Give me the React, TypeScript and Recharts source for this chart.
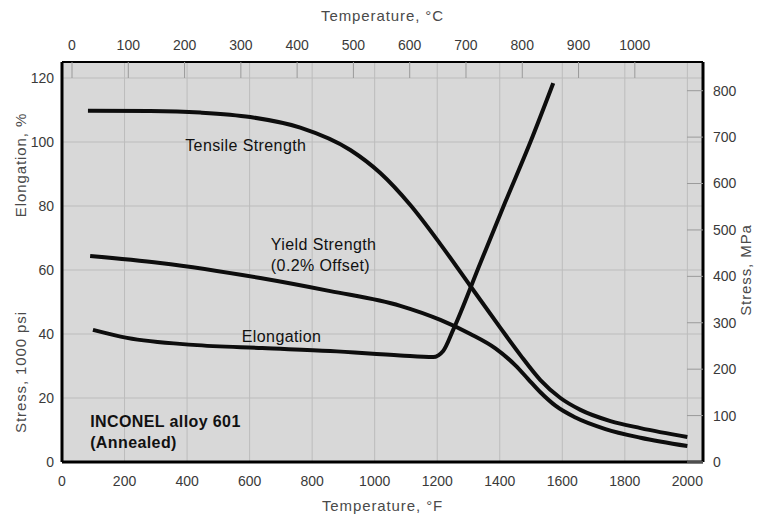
import { LineChart, Line, XAxis, YAxis, CartesianGrid, ReferenceDot } from "recharts";

const FONT = '"Liberation Sans", Arial, Helvetica, sans-serif';

// Temperature in °F; strengths in 1000 psi, elongation in %
const tensileTemps = [83, 282, 442, 602, 762, 922, 1018, 1114, 1210, 1306, 1402, 1466, 1530, 1594, 1658, 1754, 1850, 2000];
const tensileKsi = [109.8, 109.7, 109.2, 107.8, 104.5, 97.5, 90.3, 80.3, 68.1, 55, 41.9, 33.4, 25.6, 20, 16.3, 12.8, 10.6, 7.8];

const yieldTemps = [90, 314, 634, 858, 1082, 1210, 1306, 1386, 1450, 1490, 1530, 1578, 1642, 1738, 1850, 2000];
const yieldKsi = [64.4, 62.2, 57.5, 53.4, 48.8, 44.4, 40, 35.5, 30.2, 26, 21.8, 17.6, 13.9, 10.3, 7.6, 5];

const elongTemps = [99, 208, 419, 640, 858, 1082, 1187, 1219, 1251, 1338, 1418, 1498, 1571];
const elongPct = [41.3, 38.8, 36.6, 35.6, 34.7, 33.3, 32.8, 34.7, 41.3, 62.2, 81.3, 100, 118.4];

const fTicks = [0, 200, 400, 600, 800, 1000, 1200, 1400, 1600, 1800, 2000];
const cTicks = [0, 100, 200, 300, 400, 500, 600, 700, 800, 900, 1000];
const ksiTicks = [0, 20, 40, 60, 80, 100, 120];
const mpaTicks = [0, 100, 200, 300, 400, 500, 600, 700, 800];

const F_MAX = 2050;
const KSI_MAX = 125;
const KSI_TO_MPA = 6.89476;
const toC = (f: number) => (f - 32) / 1.8;

const toPoints = (temps: number[], vals: number[]) => temps.map((f, i) => ({ f, v: vals[i] }));

const tensile = toPoints(tensileTemps, tensileKsi);
const yieldPts = toPoints(yieldTemps, yieldKsi);
const elong = toPoints(elongTemps, elongPct);
// same tensile curve expressed in °C / MPa, keeps the secondary axes bound
const metric = tensile.map((p) => ({ c: toC(p.f), mpa: p.v * KSI_TO_MPA }));

// in-plot captions, anchored at (°F, ksi)
const notes = [
  { f: 394, v: 99, lines: ["Tensile Strength"], bold: false },
  { f: 668, v: 68.1, lines: ["Yield Strength", "(0.2% Offset)"], bold: false },
  { f: 575, v: 39.4, lines: ["Elongation"], bold: false },
  { f: 90, v: 12.8, lines: ["INCONEL alloy 601", "(Annealed)"], bold: true },
];

const tickStyle = { fill: "#3a3a3a", fontSize: 14, fontFamily: FONT };
const titleStyle = { fill: "#4a4a4a", fontSize: 15, fontFamily: FONT, letterSpacing: 0.9 };
const frame = { stroke: "#000", strokeWidth: 3 };
const innerTick = { stroke: "#9a9a9a", strokeWidth: 1 };

const noteShape = (lines: string[], bold: boolean) => (props: any) => (
  <text
    x={props.cx}
    y={props.cy}
    fill="#111"
    fontSize={16}
    fontFamily={FONT}
    fontWeight={bold ? "bold" : "normal"}
    letterSpacing={0.4}
    dominantBaseline="central"
  >
    {lines.map((t, i) => (
      <tspan key={t} x={props.cx} dy={i === 0 ? 0 : 21}>
        {t}
      </tspan>
    ))}
  </text>
);

const leftTitle = (props: any) => {
  const { x } = props.viewBox;
  const cx = x + 20;
  return (
    <g>
      <text {...titleStyle} x={cx} y={165} textAnchor="middle" dominantBaseline="central" transform={`rotate(-90 ${cx} 165)`}>
        Elongation, %
      </text>
      <text {...titleStyle} x={cx} y={372} textAnchor="middle" dominantBaseline="central" transform={`rotate(-90 ${cx} 372)`}>
        Stress, 1000 psi
      </text>
    </g>
  );
};

const rightTitle = (props: any) => {
  const { x } = props.viewBox;
  const cx = x + 42;
  return (
    <text {...titleStyle} x={cx} y={270} textAnchor="middle" dominantBaseline="central" transform={`rotate(-90 ${cx} 270)`}>
      Stress, MPa
    </text>
  );
};

export default function App() {
  return (
    <div style={{ position: "absolute", left: 0, top: 0, background: "#fff" }}>
      <LineChart width={759} height={518} margin={{ top: 0, right: 0, bottom: 0, left: 0 }}>
        <CartesianGrid fill="#d8d8d8" fillOpacity={1} stroke="#bcbcbc" strokeWidth={1} />
        <XAxis
          dataKey="f"
          type="number"
          domain={[0, F_MAX]}
          allowDataOverflow
          ticks={fTicks}
          height={56}
          axisLine={frame}
          tickLine={false}
          tickSize={0}
          tickMargin={14}
          tick={tickStyle}
          label={{ value: "Temperature, °F", position: "insideBottom", offset: 7, style: titleStyle }}
        />
        <XAxis
          xAxisId="c"
          dataKey="c"
          orientation="top"
          type="number"
          domain={[toC(0), toC(F_MAX)]}
          allowDataOverflow
          ticks={cTicks}
          height={62}
          axisLine={{ stroke: "#000", strokeWidth: 2 }}
          tickLine={innerTick}
          tickSize={-16}
          tickMargin={28}
          tick={tickStyle}
          label={{ value: "Temperature, °C", position: "insideTop", offset: 10, style: titleStyle }}
        />
        <YAxis
          type="number"
          domain={[0, KSI_MAX]}
          allowDataOverflow
          ticks={ksiTicks}
          width={62}
          axisLine={frame}
          tickLine={false}
          tickSize={0}
          tickMargin={8}
          tick={tickStyle}
          label={{ content: leftTitle }}
        />
        <YAxis
          yAxisId="mpa"
          orientation="right"
          type="number"
          domain={[0, KSI_MAX * KSI_TO_MPA]}
          allowDataOverflow
          ticks={mpaTicks}
          width={56}
          axisLine={frame}
          tickLine={innerTick}
          tickSize={-16}
          tickMargin={26}
          tick={tickStyle}
          label={{ content: rightTitle }}
        />

        <Line data={metric} xAxisId="c" yAxisId="mpa" dataKey="mpa" stroke="none" dot={false} activeDot={false} isAnimationActive={false} />

        <Line data={tensile} dataKey="v" type="monotone" stroke="#0d0d0d" strokeWidth={4} dot={false} isAnimationActive={false} />
        <Line data={yieldPts} dataKey="v" type="monotone" stroke="#0d0d0d" strokeWidth={4} dot={false} isAnimationActive={false} />
        <Line data={elong} dataKey="v" type="monotone" stroke="#0d0d0d" strokeWidth={4} dot={false} isAnimationActive={false} />

        {notes.map((n) => (
          <ReferenceDot key={n.lines[0]} x={n.f} y={n.v} r={0} shape={noteShape(n.lines, n.bold)} />
        ))}
      </LineChart>
    </div>
  );
}
